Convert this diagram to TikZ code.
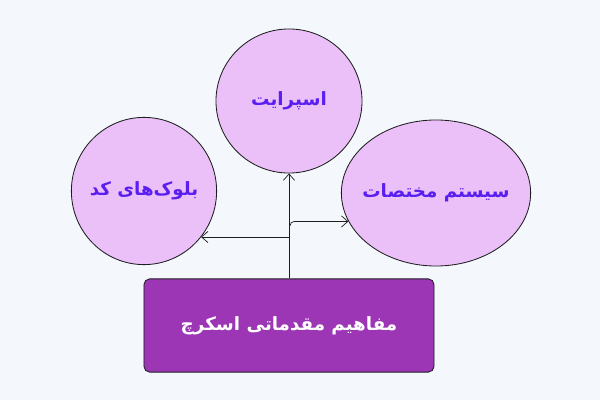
\documentclass[tikz,border=0pt]{standalone}
\usepackage{fontspec}
\newfontfamily\farsifont[Script=Arabic]{DejaVu Sans}
\TeXXeTstate=1
\usetikzlibrary{shapes.geometric,arrows.meta}
\definecolor{bgblue}{HTML}{F4F8FD}
\definecolor{bubblefill}{HTML}{EBC0F8}
\definecolor{inkviolet}{HTML}{5A1FF0}
\definecolor{boxviolet}{HTML}{9C36B5}
\definecolor{edgegray}{HTML}{1E1E1E}
\tikzset{
    bubble/.style = {draw=edgegray, ellipse, fill=bubblefill,
        inner sep=-1.5cm, line width=0.6pt, text=inkviolet,
        font=\farsifont\bfseries\fontsize{13}{15}\selectfont},
    topic/.style = {draw=edgegray, rectangle, rounded corners=4pt,
        fill=boxviolet, line width=0.6pt, text=white,
        minimum width=7.25cm, minimum height=2.33cm,
        font=\farsifont\bfseries\fontsize{13}{15}\selectfont},
    arrow/.style = {draw=edgegray, line width=0.5pt,
        -{Straight Barb[length=1.6mm,width=2.8mm]}}
}

\begin{document}
\begin{tikzpicture}[x=0.025cm, y=-0.025cm]
                \fill[bgblue] (0,0) rectangle (600,400);
                \node[bubble, minimum width=3.65cm, minimum height=3.6cm] (sprite) at (289,101) {\beginR اسپرایت\endR};
                \node[bubble, minimum width=3.63cm, minimum height=3.68cm] (blocks) at (144,191) {\beginR بلوک‌های کد\endR};
                \node[bubble, minimum width=4.73cm, minimum height=3.65cm] (coords) at (436,193) {\beginR سیستم مختصات\endR};
                \node[topic] (scratch) at (289,325.5) {\beginR مفاهیم مقدماتی اسکرچ\endR};
                \coordinate (left fork) at (289,237);
                \coordinate (right fork) at (290,226);
                \draw [arrow] (scratch.north) -- (sprite.south);
                \draw [arrow] (left fork) -- (blocks.-39 |- left fork);
                \draw [arrow, rounded corners=3pt] (right fork) |- (coords.198);
            \end{tikzpicture}
\end{document}
